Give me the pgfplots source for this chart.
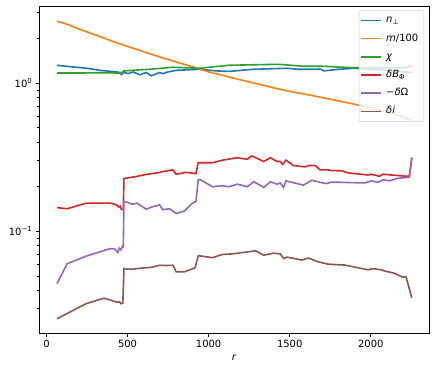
\documentclass[border=0pt]{standalone}
\usepackage{fontspec}
\setmainfont{DejaVu Sans}
\usepackage{pgfplots}
\pgfplotsset{compat=1.18}
\definecolor{c0}{HTML}{1F77B4}
\definecolor{c1}{HTML}{FF7F0E}
\definecolor{c2}{HTML}{2CA02C}
\definecolor{c3}{HTML}{D62728}
\definecolor{c4}{HTML}{9467BD}
\definecolor{c5}{HTML}{8C564B}
\begin{document}
\begin{tikzpicture}
\begin{axis}[
  name=ax,
  scale only axis, width=389.7bp, height=326.6bp,
  ymode=log,
  xmin=-44, xmax=2359, ymin=0.0205, ymax=3.28,
  xtick={0,500,1000,1500,2000},
  ytick={0.1,1}, yticklabels={10\textsuperscript{−1},10\textsuperscript{0}},
  minor ytick={0.03,0.04,0.05,0.06,0.07,0.08,0.09,0.2,0.3,0.4,0.5,0.6,0.7,0.8,0.9,2,3},
  xtick pos=bottom, ytick pos=left,
  tick align=outside,
  major tick length=3.5bp, minor tick length=2bp,
  every tick/.style={black, line width=0.8bp},
  minor tick style={black, line width=0.6bp},
  axis line style={line width=0.8bp},
  /pgf/number format/assume math mode=true,
  /pgf/number format/set thousands separator={},
  tick label style={font=\fontsize{10}{12}\selectfont},
  label style={font=\fontsize{10}{12}\selectfont},
  xlabel={\textit{r}},
  every axis plot/.append style={line width=1.6bp, no markers},
  legend cell align=left,
  legend image code/.code={\draw[#1, line width=1.6bp] (0bp,0bp) -- (20bp,0bp);},
  legend style={font=\fontsize{10}{12}\selectfont, at={(1,1)}, anchor=north east,
    xshift=-5bp, yshift=-3.5bp, draw=black!20, rounded corners=2bp,
    fill=white, fill opacity=0.8, text opacity=1, inner xsep=1.5bp, inner ysep=1bp,
    nodes={text height=8bp, text depth=3bp, inner ysep=3.6bp, inner xsep=4bp}},
]
\addplot[c0] coordinates {(65,1.32)(150,1.29)(250,1.26)(330,1.22)(433,1.19)(453,1.18)(463,1.145)(470,1.19)(504,1.16)(535,1.19)(575,1.14)(616,1.18)(647,1.12)(698,1.18)(718,1.16)(749,1.19)(800,1.22)(943,1.24)(1045,1.21)(1126,1.20)(1275,1.24)(1483,1.26)(1550,1.24)(1688,1.245)(1710,1.21)(1800,1.24)(1893,1.26)(2000,1.24)(2100,1.22)(2253,1.18)};
\addlegendentry{\textit{n}\textsubscript{⊥}}
\addplot[c1] coordinates {(65,2.62)(130,2.49)(200,2.32)(300,2.12)(400,1.93)(500,1.77)(600,1.63)(700,1.50)(800,1.39)(900,1.29)(1000,1.19)(1100,1.12)(1200,1.05)(1300,0.99)(1400,0.93)(1500,0.88)(1600,0.84)(1700,0.80)(1800,0.76)(1900,0.72)(2000,0.68)(2100,0.64)(2200,0.59)(2253,0.56)};
\addlegendentry{\textit{m}/100}
\addplot[c2] coordinates {(65,1.17)(200,1.17)(330,1.175)(453,1.17)(463,1.15)(472,1.16)(477,1.21)(636,1.24)(780,1.28)(943,1.26)(1126,1.32)(1275,1.33)(1430,1.34)(1585,1.30)(1700,1.30)(1893,1.27)(2000,1.27)(2210,1.27)(2253,1.31)};
\addlegendentry{\textit{χ}}
\addplot[c3] coordinates {(65,0.1445)(128,0.142)(245,0.155)(392,0.155)(415,0.153)(435,0.150)(445,0.146)(455,0.148)(462,0.141)(470,0.140)(474,0.142)(478,0.227)(520,0.231)(560,0.235)(616,0.242)(660,0.246)(700,0.250)(718,0.253)(740,0.255)(760,0.258)(780,0.26)(800,0.243)(861,0.250)(922,0.245)(936,0.290)(1024,0.29)(1085,0.302)(1177,0.314)(1238,0.306)(1265,0.323)(1340,0.296)(1381,0.314)(1422,0.296)(1442,0.296)(1456,0.283)(1477,0.302)(1524,0.278)(1595,0.272)(1616,0.278)(1657,0.278)(1687,0.26)(1738,0.26)(1758,0.257)(1820,0.256)(1860,0.248)(1983,0.240)(2003,0.243)(2054,0.235)(2075,0.243)(2126,0.24)(2207,0.236)(2238,0.236)(2253,0.314)};
\addlegendentry{\textit{δB}\textsubscript{Φ}}
\addplot[c4] coordinates {(65,0.0443)(128,0.0605)(245,0.068)(392,0.0764)(420,0.076)(440,0.072)(450,0.077)(460,0.075)(470,0.0798)(474,0.079)(478,0.158)(500,0.157)(530,0.152)(560,0.155)(590,0.147)(616,0.141)(650,0.146)(698,0.151)(717,0.140)(760,0.142)(800,0.132)(851,0.137)(900,0.155)(922,0.159)(936,0.223)(950,0.223)(1024,0.200)(1085,0.203)(1126,0.200)(1177,0.208)(1238,0.200)(1279,0.216)(1340,0.198)(1381,0.216)(1422,0.208)(1442,0.212)(1462,0.198)(1477,0.219)(1585,0.205)(1636,0.221)(1697,0.213)(1728,0.210)(1758,0.215)(1963,0.212)(2003,0.219)(2044,0.214)(2075,0.223)(2115,0.219)(2167,0.228)(2207,0.23)(2238,0.232)(2253,0.314)};
\addlegendentry{−\textit{δ}Ω}
\addplot[c5] coordinates {(65,0.0257)(245,0.0325)(355,0.0354)(400,0.0342)(435,0.0332)(450,0.0335)(460,0.0325)(471,0.0327)(478,0.056)(500,0.0556)(530,0.0555)(575,0.0563)(606,0.0567)(636,0.057)(660,0.0575)(698,0.059)(740,0.0588)(780,0.059)(800,0.0533)(851,0.0533)(916,0.0567)(937,0.0685)(1023,0.0664)(1085,0.0698)(1150,0.0705)(1248,0.0728)(1289,0.074)(1340,0.069)(1400,0.0712)(1442,0.0705)(1463,0.0655)(1483,0.067)(1575,0.064)(1616,0.066)(1677,0.0622)(1738,0.0600)(1840,0.0592)(1983,0.055)(2013,0.056)(2064,0.055)(2085,0.054)(2146,0.0521)(2197,0.049)(2217,0.0495)(2253,0.0356)};
\addlegendentry{\textit{δi}}
\end{axis}
\pgfresetboundingbox
\path[use as bounding box] ([xshift=-39.3bp,yshift=-38.7bp]ax.south west) rectangle ([xshift=7bp,yshift=6.7bp]ax.north east);
\end{tikzpicture}
\end{document}
